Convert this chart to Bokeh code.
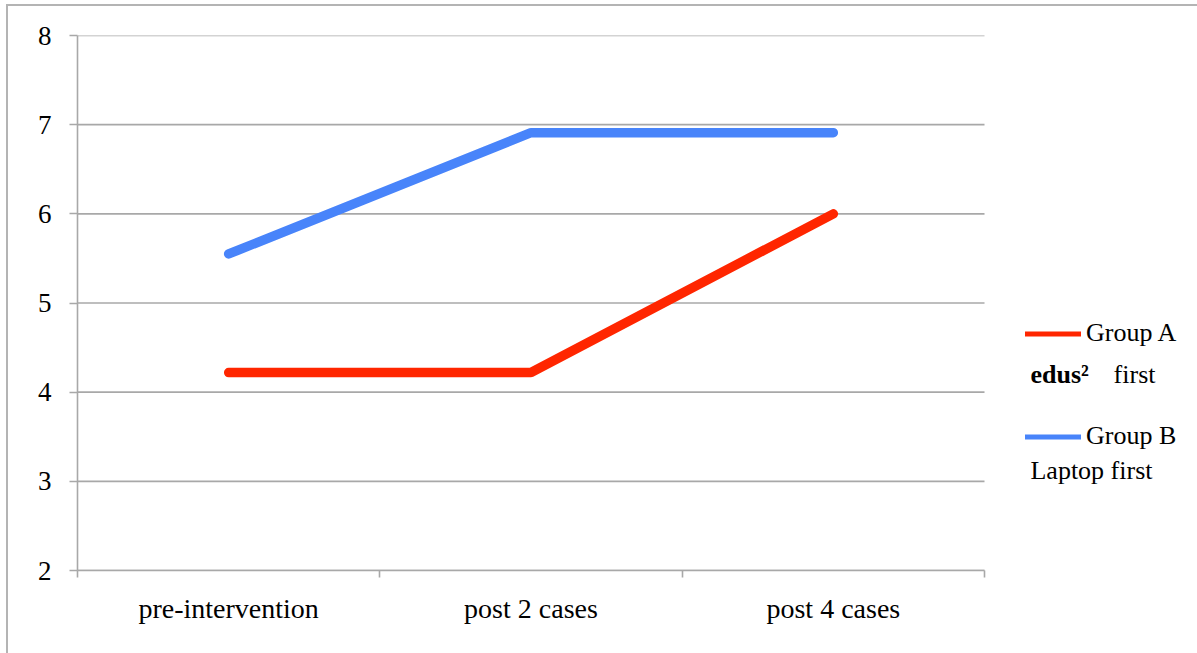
from bokeh.plotting import figure
from bokeh.models import Range1d, FixedTicker, Legend, LegendItem, Label
from bokeh.embed import file_html
from bokeh.resources import INLINE

# ---- data ----
categories = ["pre-intervention", "post 2 cases", "post 4 cases"]
group_a = [4.22, 4.22, 6.0]
group_b = [5.55, 6.91, 6.91]
y_ticks = [2, 3, 4, 5, 6, 7, 8]
series_names = ["Group A", "Group B"]
series_sub_bold = ["edus\u00b2", ""]
series_sub_rest = ["first", "Laptop first"]

RED = "#ff2600"
BLUE = "#4884fa"
GRID = "#a8a8a8"
FONT = "Liberation Serif"
W, H = 1197, 653
LEFT, TOP, BOTTOM = 77, 35, 83
PLOT_PX = 907                      # pixel width of the category area
n = len(categories)
x_end = n * (W - LEFT) / PLOT_PX   # extra room to the right for the legend

xs = [i + 0.5 for i in range(n)]
boundaries = [float(i) for i in range(n + 1)]

p = figure(width=W, height=H, output_backend="svg", toolbar_location=None,
           x_range=Range1d(0, x_end), y_range=Range1d(y_ticks[0], y_ticks[-1]),
           min_border_left=LEFT, min_border_right=0, min_border_top=TOP, min_border_bottom=BOTTOM)
p.border_fill_color = None
p.background_fill_color = None
p.outline_line_color = None
p.styles = {
    "background": "linear-gradient(#b4b4b4,#b4b4b4) 6px 4px / 2px 100% no-repeat, "
                  "linear-gradient(#b4b4b4,#b4b4b4) 6px 4px / 100% 2px no-repeat, white"
}

# horizontal grid lines limited to the category area
p.xgrid.grid_line_color = None
p.ygrid.grid_line_color = None
p.segment(x0=[0] * len(y_ticks), x1=[n] * len(y_ticks), y0=y_ticks, y1=y_ticks,
          line_color=GRID, line_width=1.6)

# lines
p.line(xs, group_a, line_color=RED, line_width=9.5, line_cap="round")
p.line(xs, group_b, line_color=BLUE, line_width=9.5, line_cap="round")

# axes
xa = p.xaxis[0]
xa.bounds = (0, n)
xa.ticker = FixedTicker(ticks=xs, minor_ticks=boundaries)
xa.major_label_overrides = {x: c for x, c in zip(xs, categories)}
xa.major_tick_line_color = None
xa.minor_tick_out = 7
xa.minor_tick_in = 0
xa.minor_tick_line_color = GRID
xa.minor_tick_line_width = 1.6
xa.axis_line_color = GRID
xa.axis_line_width = 1.6
xa.major_label_text_font = FONT
xa.major_label_text_font_size = "28px"
xa.major_label_text_color = "black"
xa.major_label_standoff = 15

ya = p.yaxis[0]
ya.ticker = FixedTicker(ticks=y_ticks)
ya.minor_tick_line_color = None
ya.major_tick_out = 8
ya.major_tick_in = 0
ya.major_tick_line_color = GRID
ya.major_tick_line_width = 1.6
ya.axis_line_color = GRID
ya.axis_line_width = 1.6
ya.major_label_text_font = FONT
ya.major_label_text_font_size = "27px"
ya.major_label_text_color = "black"
ya.major_label_standoff = 18

# legend (hidden proxy renderers give thinner sample lines)
ra = p.line(xs, group_a, line_color=RED, line_width=5, line_cap="round", visible=False)
rb = p.line(xs, group_b, line_color=BLUE, line_width=5, line_cap="round", visible=False)
legend = Legend(items=[LegendItem(label=series_names[0], renderers=[ra]),
                       LegendItem(label=series_names[1], renderers=[rb])],
                location=(948, 119), glyph_width=56, glyph_height=25, label_height=25,
                label_standoff=5, spacing=73, padding=0, margin=0,
                border_line_color=None, background_fill_alpha=0, inactive_fill_alpha=0,
                label_text_font=FONT, label_text_font_size="26px", label_text_color="black")
p.add_layout(legend, "center")

# second line of each legend entry
p.add_layout(Label(x=3.152, y=4.198, text=series_sub_bold[0], text_font=FONT,
                   text_font_size="26px", text_font_style="bold", text_baseline="alphabetic",
                   text_color="black"))
p.add_layout(Label(x=3.427, y=4.198, text=series_sub_rest[0], text_font=FONT,
                   text_font_size="26px", text_baseline="alphabetic", text_color="black"))
p.add_layout(Label(x=3.152, y=3.121, text=series_sub_rest[1], text_font=FONT,
                   text_font_size="26px", text_baseline="alphabetic", text_color="black"))

open("out.html", "w").write(file_html(p, INLINE))
